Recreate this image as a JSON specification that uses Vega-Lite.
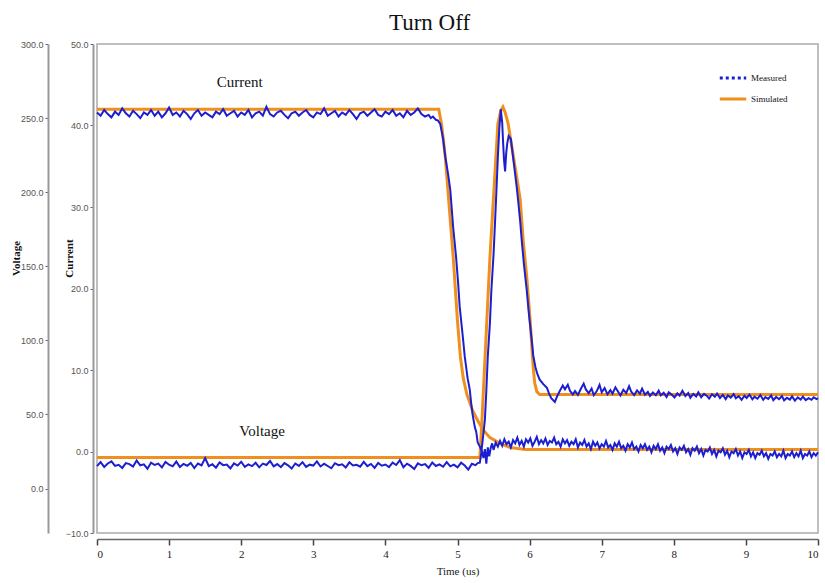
{
  "$schema": "https://vega.github.io/schema/vega-lite/v6.json",
  "autosize": "none",
  "width": 721,
  "height": 489,
  "padding": {"left": 97, "top": 44, "right": 7, "bottom": 50},
  "background": "white",
  "title": {
    "text": "Turn Off",
    "font": "Liberation Serif",
    "fontSize": 23,
    "fontWeight": "normal",
    "color": "#111",
    "frame": "group",
    "anchor": "middle",
    "dx": -28,
    "offset": 5
  },
  "config": {
    "view": {"stroke": "#aaa", "strokeWidth": 1.5},
    "legend": {
      "orient": "none",
      "legendX": 621,
      "legendY": 19,
      "title": null,
      "labelFont": "Liberation Serif",
      "labelFontSize": 9,
      "labelColor": "#111",
      "labelOffset": 3,
      "symbolType": "stroke",
      "symbolSize": 700,
      "symbolStrokeWidth": 3,
      "rowPadding": 0
    }
  },
  "datasets": {
    "curS": [
      {"t": 0, "v": 42.0}, {"t": 4.74, "v": 42.0}, {"t": 4.78, "v": 40.1}, {"t": 4.83, "v": 36.2},
      {"t": 4.94, "v": 23.9}, {"t": 5.0, "v": 16.0}, {"t": 5.04, "v": 11.6}, {"t": 5.08, "v": 9.0},
      {"t": 5.13, "v": 7.0}, {"t": 5.21, "v": 5.0}, {"t": 5.28, "v": 3.8}, {"t": 5.35, "v": 2.7},
      {"t": 5.45, "v": 1.7}, {"t": 5.59, "v": 1.0}, {"t": 5.73, "v": 0.5}, {"t": 5.94, "v": 0.25},
      {"t": 10, "v": 0.25}
    ],
    "volS": [
      {"t": 0, "v": 20.9}, {"t": 5.31, "v": 20.9}, {"t": 5.34, "v": 46.5}, {"t": 5.45, "v": 156},
      {"t": 5.56, "v": 246}, {"t": 5.6, "v": 255}, {"t": 5.63, "v": 257.6}, {"t": 5.66, "v": 254},
      {"t": 5.7, "v": 246.8}, {"t": 5.82, "v": 210.6}, {"t": 5.87, "v": 195}, {"t": 5.91, "v": 168},
      {"t": 5.96, "v": 143}, {"t": 6.01, "v": 112}, {"t": 6.05, "v": 82}, {"t": 6.07, "v": 71.5},
      {"t": 6.1, "v": 65.4}, {"t": 6.14, "v": 63.4}, {"t": 10, "v": 63.4}
    ],
    "curM": [
      {"t": 0.00, "v": 41.6}, {"t": 0.05, "v": 41.2}, {"t": 0.10, "v": 41.9}, {"t": 0.15, "v": 41.4},
      {"t": 0.20, "v": 41.0}, {"t": 0.25, "v": 41.7}, {"t": 0.30, "v": 41.3}, {"t": 0.35, "v": 42.1},
      {"t": 0.40, "v": 41.5}, {"t": 0.45, "v": 41.1}, {"t": 0.50, "v": 41.8}, {"t": 0.55, "v": 41.4},
      {"t": 0.60, "v": 40.9}, {"t": 0.65, "v": 41.6}, {"t": 0.70, "v": 41.3}, {"t": 0.75, "v": 41.9},
      {"t": 0.80, "v": 41.2}, {"t": 0.85, "v": 41.7}, {"t": 0.90, "v": 41.0}, {"t": 0.95, "v": 41.5},
      {"t": 1.00, "v": 42.2}, {"t": 1.05, "v": 41.3}, {"t": 1.10, "v": 41.6}, {"t": 1.15, "v": 41.1},
      {"t": 1.20, "v": 41.8}, {"t": 1.25, "v": 41.4}, {"t": 1.30, "v": 40.8}, {"t": 1.35, "v": 41.5},
      {"t": 1.40, "v": 41.9}, {"t": 1.45, "v": 41.2}, {"t": 1.50, "v": 41.6}, {"t": 1.55, "v": 41.3},
      {"t": 1.60, "v": 41.0}, {"t": 1.65, "v": 41.7}, {"t": 1.70, "v": 41.4}, {"t": 1.75, "v": 42.0},
      {"t": 1.80, "v": 41.2}, {"t": 1.85, "v": 41.5}, {"t": 1.90, "v": 41.8}, {"t": 1.95, "v": 41.1},
      {"t": 2.00, "v": 41.6}, {"t": 2.05, "v": 41.3}, {"t": 2.10, "v": 41.9}, {"t": 2.15, "v": 41.0},
      {"t": 2.20, "v": 41.5}, {"t": 2.25, "v": 41.7}, {"t": 2.30, "v": 41.2}, {"t": 2.35, "v": 42.3},
      {"t": 2.40, "v": 41.4}, {"t": 2.45, "v": 41.1}, {"t": 2.50, "v": 41.6}, {"t": 2.55, "v": 41.8},
      {"t": 2.60, "v": 41.3}, {"t": 2.65, "v": 40.9}, {"t": 2.70, "v": 41.5}, {"t": 2.75, "v": 41.7},
      {"t": 2.80, "v": 41.2}, {"t": 2.85, "v": 41.6}, {"t": 2.90, "v": 41.9}, {"t": 2.95, "v": 41.3},
      {"t": 3.00, "v": 41.0}, {"t": 3.05, "v": 41.6}, {"t": 3.10, "v": 41.4}, {"t": 3.15, "v": 42.1},
      {"t": 3.20, "v": 41.2}, {"t": 3.25, "v": 41.5}, {"t": 3.30, "v": 41.8}, {"t": 3.35, "v": 41.1},
      {"t": 3.40, "v": 41.6}, {"t": 3.45, "v": 41.3}, {"t": 3.50, "v": 41.9}, {"t": 3.55, "v": 41.4},
      {"t": 3.60, "v": 40.8}, {"t": 3.65, "v": 41.5}, {"t": 3.70, "v": 41.7}, {"t": 3.75, "v": 41.2},
      {"t": 3.80, "v": 41.6}, {"t": 3.85, "v": 42.0}, {"t": 3.90, "v": 41.3}, {"t": 3.95, "v": 41.1},
      {"t": 4.00, "v": 41.7}, {"t": 4.05, "v": 41.4}, {"t": 4.10, "v": 41.9}, {"t": 4.15, "v": 41.2},
      {"t": 4.20, "v": 41.5}, {"t": 4.25, "v": 41.0}, {"t": 4.30, "v": 41.8}, {"t": 4.35, "v": 41.3},
      {"t": 4.40, "v": 41.6}, {"t": 4.45, "v": 42.1}, {"t": 4.50, "v": 41.4}, {"t": 4.55, "v": 41.1},
      {"t": 4.60, "v": 41.3}, {"t": 4.63, "v": 40.9}, {"t": 4.66, "v": 41.1}, {"t": 4.70, "v": 40.7},
      {"t": 4.73, "v": 40.6}, {"t": 4.76, "v": 40.2}, {"t": 4.80, "v": 38.4}, {"t": 4.83, "v": 36.2},
      {"t": 4.87, "v": 34.0}, {"t": 4.90, "v": 32.1}, {"t": 4.94, "v": 27.5}, {"t": 4.98, "v": 23.9},
      {"t": 5.01, "v": 20.5}, {"t": 5.03, "v": 17.8}, {"t": 5.07, "v": 14.4}, {"t": 5.10, "v": 11.7},
      {"t": 5.14, "v": 9.0}, {"t": 5.17, "v": 7.6}, {"t": 5.19, "v": 5.9}, {"t": 5.21, "v": 4.5},
      {"t": 5.24, "v": 3.0}, {"t": 5.26, "v": 2.4}, {"t": 5.28, "v": 1.1}, {"t": 5.31, "v": 0.6},
      {"t": 5.34, "v": 0.0}, {"t": 5.36, "v": -0.8}, {"t": 5.38, "v": 0.3}, {"t": 5.40, "v": -1.5},
      {"t": 5.42, "v": 0.5}, {"t": 5.44, "v": -0.6}, {"t": 5.46, "v": 0.4}, {"t": 5.48, "v": 1.0},
      {"t": 5.50, "v": 0.2}, {"t": 5.53, "v": 1.1}, {"t": 5.56, "v": 0.6}, {"t": 5.59, "v": 1.3},
      {"t": 5.62, "v": 0.7}, {"t": 5.65, "v": 1.5}, {"t": 5.68, "v": 0.9}, {"t": 5.71, "v": 1.2},
      {"t": 5.74, "v": 0.5}, {"t": 5.77, "v": 1.4}, {"t": 5.80, "v": 1.0}, {"t": 5.83, "v": 1.7},
      {"t": 5.86, "v": 0.8}, {"t": 5.89, "v": 1.3}, {"t": 5.92, "v": 0.6}, {"t": 5.95, "v": 1.5},
      {"t": 5.98, "v": 1.1}, {"t": 6.01, "v": 1.6}, {"t": 6.04, "v": 0.7}, {"t": 6.07, "v": 1.2},
      {"t": 6.10, "v": 1.8}, {"t": 6.13, "v": 0.9}, {"t": 6.16, "v": 1.4}, {"t": 6.19, "v": 1.0},
      {"t": 6.22, "v": 1.6}, {"t": 6.25, "v": 0.8}, {"t": 6.28, "v": 1.3}, {"t": 6.31, "v": 1.1},
      {"t": 6.34, "v": 1.7}, {"t": 6.37, "v": 0.9}, {"t": 6.40, "v": 1.2}, {"t": 6.43, "v": 0.6},
      {"t": 6.46, "v": 1.5}, {"t": 6.49, "v": 1.0}, {"t": 6.52, "v": 1.4}, {"t": 6.55, "v": 0.7},
      {"t": 6.58, "v": 1.2}, {"t": 6.61, "v": 0.9}, {"t": 6.64, "v": 1.5}, {"t": 6.67, "v": 0.5},
      {"t": 6.70, "v": 1.1}, {"t": 6.73, "v": 0.8}, {"t": 6.76, "v": 1.4}, {"t": 6.79, "v": 0.6},
      {"t": 6.82, "v": 1.0}, {"t": 6.85, "v": 0.3}, {"t": 6.88, "v": 1.2}, {"t": 6.91, "v": 0.7},
      {"t": 6.94, "v": 1.1}, {"t": 6.97, "v": 0.4}, {"t": 7.00, "v": 0.9}, {"t": 7.03, "v": 0.6},
      {"t": 7.06, "v": 1.3}, {"t": 7.09, "v": 0.5}, {"t": 7.12, "v": 0.8}, {"t": 7.15, "v": 0.2},
      {"t": 7.18, "v": 1.0}, {"t": 7.21, "v": 0.6}, {"t": 7.24, "v": 1.2}, {"t": 7.27, "v": 0.4},
      {"t": 7.30, "v": 0.7}, {"t": 7.33, "v": 0.1}, {"t": 7.36, "v": 0.9}, {"t": 7.39, "v": 0.5},
      {"t": 7.42, "v": 1.1}, {"t": 7.45, "v": 0.3}, {"t": 7.48, "v": 0.6}, {"t": 7.51, "v": 0.0},
      {"t": 7.54, "v": 0.8}, {"t": 7.57, "v": 0.4}, {"t": 7.60, "v": 0.9}, {"t": 7.63, "v": 0.2},
      {"t": 7.66, "v": 0.6}, {"t": 7.69, "v": -0.1}, {"t": 7.72, "v": 0.7}, {"t": 7.75, "v": 0.3},
      {"t": 7.78, "v": 0.9}, {"t": 7.81, "v": 0.1}, {"t": 7.84, "v": 0.5}, {"t": 7.87, "v": -0.2},
      {"t": 7.90, "v": 0.6}, {"t": 7.93, "v": 0.3}, {"t": 7.96, "v": 0.8}, {"t": 7.99, "v": 0.0},
      {"t": 8.02, "v": 0.4}, {"t": 8.05, "v": -0.3}, {"t": 8.08, "v": 0.5}, {"t": 8.11, "v": 0.2},
      {"t": 8.14, "v": 0.7}, {"t": 8.17, "v": -0.1}, {"t": 8.20, "v": 0.3}, {"t": 8.23, "v": -0.4},
      {"t": 8.26, "v": 0.4}, {"t": 8.29, "v": 0.1}, {"t": 8.32, "v": 0.6}, {"t": 8.35, "v": -0.2},
      {"t": 8.38, "v": 0.3}, {"t": 8.41, "v": -0.5}, {"t": 8.44, "v": 0.2}, {"t": 8.47, "v": 0.0},
      {"t": 8.50, "v": 0.5}, {"t": 8.53, "v": -0.3}, {"t": 8.56, "v": 0.2}, {"t": 8.59, "v": -0.6},
      {"t": 8.62, "v": 0.1}, {"t": 8.65, "v": -0.1}, {"t": 8.68, "v": 0.4}, {"t": 8.71, "v": -0.4},
      {"t": 8.74, "v": 0.1}, {"t": 8.77, "v": -0.7}, {"t": 8.80, "v": 0.0}, {"t": 8.83, "v": -0.2},
      {"t": 8.86, "v": 0.3}, {"t": 8.89, "v": -0.5}, {"t": 8.92, "v": 0.0}, {"t": 8.95, "v": -0.8},
      {"t": 8.98, "v": -0.1}, {"t": 9.01, "v": -0.3}, {"t": 9.04, "v": 0.2}, {"t": 9.07, "v": -0.6},
      {"t": 9.10, "v": -0.1}, {"t": 9.13, "v": -0.8}, {"t": 9.16, "v": -0.2}, {"t": 9.19, "v": -0.4},
      {"t": 9.22, "v": 0.1}, {"t": 9.25, "v": -0.6}, {"t": 9.28, "v": -0.2}, {"t": 9.31, "v": -0.9},
      {"t": 9.34, "v": -0.3}, {"t": 9.37, "v": -0.5}, {"t": 9.40, "v": 0.0}, {"t": 9.43, "v": -0.7},
      {"t": 9.46, "v": -0.3}, {"t": 9.49, "v": -0.6}, {"t": 9.52, "v": 0.1}, {"t": 9.55, "v": -0.8},
      {"t": 9.58, "v": -0.3}, {"t": 9.61, "v": -0.5}, {"t": 9.64, "v": 0.0}, {"t": 9.67, "v": -0.7},
      {"t": 9.70, "v": -0.2}, {"t": 9.73, "v": -0.6}, {"t": 9.76, "v": 0.1}, {"t": 9.79, "v": -0.8},
      {"t": 9.82, "v": -0.3}, {"t": 9.85, "v": -0.5}, {"t": 9.88, "v": 0.0}, {"t": 9.91, "v": -0.7},
      {"t": 9.94, "v": -0.2}, {"t": 9.97, "v": -0.5}, {"t": 10.0, "v": -0.1}
    ],
    "volM": [
      {"t": 0.00, "v": 15.1}, {"t": 0.05, "v": 17.8}, {"t": 0.10, "v": 14.6}, {"t": 0.15, "v": 16.9},
      {"t": 0.20, "v": 18.4}, {"t": 0.25, "v": 15.3}, {"t": 0.30, "v": 16.0}, {"t": 0.35, "v": 13.9},
      {"t": 0.40, "v": 17.2}, {"t": 0.45, "v": 16.5}, {"t": 0.50, "v": 14.8}, {"t": 0.55, "v": 18.9},
      {"t": 0.60, "v": 15.7}, {"t": 0.65, "v": 16.3}, {"t": 0.70, "v": 13.4}, {"t": 0.75, "v": 17.5},
      {"t": 0.80, "v": 15.9}, {"t": 0.85, "v": 16.8}, {"t": 0.90, "v": 14.2}, {"t": 0.95, "v": 17.9},
      {"t": 1.00, "v": 16.1}, {"t": 1.05, "v": 15.0}, {"t": 1.10, "v": 18.2}, {"t": 1.15, "v": 14.5},
      {"t": 1.20, "v": 16.6}, {"t": 1.25, "v": 15.4}, {"t": 1.30, "v": 17.3}, {"t": 1.35, "v": 13.8},
      {"t": 1.40, "v": 16.9}, {"t": 1.45, "v": 15.6}, {"t": 1.50, "v": 20.6}, {"t": 1.55, "v": 15.2},
      {"t": 1.60, "v": 16.4}, {"t": 1.65, "v": 14.1}, {"t": 1.70, "v": 17.6}, {"t": 1.75, "v": 15.8},
      {"t": 1.80, "v": 16.2}, {"t": 1.85, "v": 13.6}, {"t": 1.90, "v": 17.0}, {"t": 1.95, "v": 15.5},
      {"t": 2.00, "v": 18.1}, {"t": 2.05, "v": 14.7}, {"t": 2.10, "v": 16.3}, {"t": 2.15, "v": 15.1},
      {"t": 2.20, "v": 17.4}, {"t": 2.25, "v": 14.3}, {"t": 2.30, "v": 16.8}, {"t": 2.35, "v": 15.9},
      {"t": 2.40, "v": 18.6}, {"t": 2.45, "v": 15.0}, {"t": 2.50, "v": 16.5}, {"t": 2.55, "v": 14.4},
      {"t": 2.60, "v": 17.2}, {"t": 2.65, "v": 15.7}, {"t": 2.70, "v": 13.5}, {"t": 2.75, "v": 16.9},
      {"t": 2.80, "v": 15.3}, {"t": 2.85, "v": 17.8}, {"t": 2.90, "v": 14.6}, {"t": 2.95, "v": 16.1},
      {"t": 3.00, "v": 15.5}, {"t": 3.05, "v": 18.3}, {"t": 3.10, "v": 14.9}, {"t": 3.15, "v": 16.7},
      {"t": 3.20, "v": 15.2}, {"t": 3.25, "v": 13.7}, {"t": 3.30, "v": 17.1}, {"t": 3.35, "v": 15.8},
      {"t": 3.40, "v": 16.4}, {"t": 3.45, "v": 14.2}, {"t": 3.50, "v": 17.7}, {"t": 3.55, "v": 15.6},
      {"t": 3.60, "v": 16.0}, {"t": 3.65, "v": 14.8}, {"t": 3.70, "v": 18.0}, {"t": 3.75, "v": 15.1},
      {"t": 3.80, "v": 16.6}, {"t": 3.85, "v": 13.9}, {"t": 3.90, "v": 17.3}, {"t": 3.95, "v": 15.4},
      {"t": 4.00, "v": 16.2}, {"t": 4.05, "v": 14.5}, {"t": 4.10, "v": 17.5}, {"t": 4.15, "v": 15.9},
      {"t": 4.20, "v": 19.2}, {"t": 4.25, "v": 14.4}, {"t": 4.30, "v": 16.8}, {"t": 4.35, "v": 15.3},
      {"t": 4.40, "v": 13.2}, {"t": 4.45, "v": 17.0}, {"t": 4.50, "v": 15.7}, {"t": 4.55, "v": 16.5},
      {"t": 4.60, "v": 14.0}, {"t": 4.65, "v": 17.6}, {"t": 4.70, "v": 15.2}, {"t": 4.75, "v": 16.3},
      {"t": 4.80, "v": 14.7}, {"t": 4.85, "v": 17.9}, {"t": 4.90, "v": 15.0}, {"t": 4.95, "v": 16.1},
      {"t": 5.00, "v": 14.3}, {"t": 5.05, "v": 17.4}, {"t": 5.10, "v": 15.5}, {"t": 5.15, "v": 12.8},
      {"t": 5.20, "v": 16.7}, {"t": 5.25, "v": 15.8}, {"t": 5.28, "v": 17.2},
      {"t": 5.31, "v": 17.5}, {"t": 5.33, "v": 24}, {"t": 5.35, "v": 33}, {"t": 5.38, "v": 46.5},
      {"t": 5.40, "v": 66}, {"t": 5.42, "v": 89}, {"t": 5.45, "v": 112}, {"t": 5.47, "v": 134},
      {"t": 5.50, "v": 158}, {"t": 5.52, "v": 179}, {"t": 5.54, "v": 201}, {"t": 5.56, "v": 224},
      {"t": 5.58, "v": 243}, {"t": 5.60, "v": 256}, {"t": 5.62, "v": 247}, {"t": 5.63, "v": 236},
      {"t": 5.645, "v": 222}, {"t": 5.66, "v": 214}, {"t": 5.675, "v": 226}, {"t": 5.69, "v": 233},
      {"t": 5.71, "v": 238}, {"t": 5.74, "v": 236}, {"t": 5.77, "v": 224}, {"t": 5.80, "v": 212},
      {"t": 5.82, "v": 204}, {"t": 5.84, "v": 195}, {"t": 5.87, "v": 180}, {"t": 5.89, "v": 168},
      {"t": 5.92, "v": 152}, {"t": 5.96, "v": 134}, {"t": 5.99, "v": 118}, {"t": 6.03, "v": 100},
      {"t": 6.05, "v": 90}, {"t": 6.08, "v": 82}, {"t": 6.11, "v": 77}, {"t": 6.14, "v": 73.5},
      {"t": 6.19, "v": 70.5}, {"t": 6.24, "v": 68}, {"t": 6.27, "v": 64}, {"t": 6.30, "v": 61},
      {"t": 6.35, "v": 58.5}, {"t": 6.38, "v": 62}, {"t": 6.42, "v": 66}, {"t": 6.46, "v": 69.5},
      {"t": 6.49, "v": 67}, {"t": 6.53, "v": 70}, {"t": 6.56, "v": 66}, {"t": 6.60, "v": 63.5},
      {"t": 6.63, "v": 65.8}, {"t": 6.67, "v": 63.2}, {"t": 6.71, "v": 67.2}, {"t": 6.75, "v": 70.8},
      {"t": 6.78, "v": 66.9}, {"t": 6.82, "v": 64.3}, {"t": 6.86, "v": 67.5}, {"t": 6.89, "v": 63.0},
      {"t": 6.93, "v": 65.6}, {"t": 6.97, "v": 69.9}, {"t": 7.00, "v": 65.0}, {"t": 7.04, "v": 67.8},
      {"t": 7.08, "v": 63.6}, {"t": 7.12, "v": 66.4}, {"t": 7.15, "v": 64.0}, {"t": 7.19, "v": 68.3},
      {"t": 7.23, "v": 65.1}, {"t": 7.26, "v": 62.8}, {"t": 7.30, "v": 66.7}, {"t": 7.34, "v": 64.4},
      {"t": 7.38, "v": 69.1}, {"t": 7.41, "v": 65.3}, {"t": 7.45, "v": 63.1}, {"t": 7.49, "v": 66.2},
      {"t": 7.53, "v": 64.0}, {"t": 7.56, "v": 67.4}, {"t": 7.60, "v": 63.3}, {"t": 7.64, "v": 65.2},
      {"t": 7.67, "v": 62.5}, {"t": 7.71, "v": 64.8}, {"t": 7.75, "v": 63.0}, {"t": 7.79, "v": 66.1},
      {"t": 7.82, "v": 62.9}, {"t": 7.86, "v": 64.6}, {"t": 7.90, "v": 61.8}, {"t": 7.93, "v": 64.9},
      {"t": 7.97, "v": 63.4}, {"t": 8.01, "v": 61.5}, {"t": 8.05, "v": 64.2}, {"t": 8.08, "v": 62.7},
      {"t": 8.12, "v": 66.0}, {"t": 8.16, "v": 62.4}, {"t": 8.20, "v": 64.5}, {"t": 8.23, "v": 61.3},
      {"t": 8.27, "v": 63.8}, {"t": 8.31, "v": 62.2}, {"t": 8.34, "v": 65.0}, {"t": 8.38, "v": 61.6},
      {"t": 8.42, "v": 63.9}, {"t": 8.46, "v": 62.5}, {"t": 8.49, "v": 60.7}, {"t": 8.53, "v": 63.6},
      {"t": 8.57, "v": 61.9}, {"t": 8.60, "v": 64.1}, {"t": 8.64, "v": 61.0}, {"t": 8.68, "v": 63.2},
      {"t": 8.72, "v": 60.4}, {"t": 8.75, "v": 62.8}, {"t": 8.79, "v": 61.4}, {"t": 8.83, "v": 63.7},
      {"t": 8.86, "v": 60.9}, {"t": 8.90, "v": 62.3}, {"t": 8.94, "v": 59.8}, {"t": 8.98, "v": 62.6},
      {"t": 9.01, "v": 61.1}, {"t": 9.05, "v": 63.4}, {"t": 9.09, "v": 60.2}, {"t": 9.12, "v": 62.0},
      {"t": 9.16, "v": 60.6}, {"t": 9.20, "v": 63.1}, {"t": 9.24, "v": 59.9}, {"t": 9.27, "v": 61.7},
      {"t": 9.31, "v": 60.5}, {"t": 9.35, "v": 62.9}, {"t": 9.38, "v": 59.6}, {"t": 9.42, "v": 61.8},
      {"t": 9.46, "v": 60.3}, {"t": 9.50, "v": 62.4}, {"t": 9.53, "v": 59.5}, {"t": 9.57, "v": 61.2},
      {"t": 9.61, "v": 60.0}, {"t": 9.64, "v": 62.2}, {"t": 9.68, "v": 59.3}, {"t": 9.72, "v": 61.5},
      {"t": 9.76, "v": 60.1}, {"t": 9.79, "v": 62.1}, {"t": 9.83, "v": 59.7}, {"t": 9.87, "v": 61.0},
      {"t": 9.91, "v": 59.9}, {"t": 9.94, "v": 61.6}, {"t": 9.98, "v": 60.4}, {"t": 10.0, "v": 61.0}
    ],
    "labels": [
      {"t": 1.98, "v": 45.3, "label": "Current"},
      {"t": 2.29, "v": 2.5, "label": "Voltage"}
    ]
  },
  "encoding": {
    "x": {
      "field": "t",
      "type": "quantitative",
      "scale": {"domain": [0, 10], "nice": false},
      "axis": {
        "orient": "bottom",
        "offset": 6,
        "values": [0, 1, 2, 3, 4, 5, 6, 7, 8, 9, 10],
        "format": "d",
        "grid": false,
        "domainColor": "#666",
        "domainWidth": 1.5,
        "tickColor": "#444",
        "tickSize": 6,
        "tickWidth": 1.5,
        "labelFont": "Liberation Serif",
        "labelFontSize": 11,
        "labelColor": "#222",
        "labelPadding": 3,
        "title": "Time (us)",
        "titleFont": "Liberation Serif",
        "titleFontSize": 11,
        "titleFontWeight": "normal",
        "titleColor": "#222",
        "titlePadding": 6
      }
    }
  },
  "layer": [
    {
      "data": {"name": "curS"},
      "mark": {"type": "line", "strokeWidth": 3},
      "encoding": {
        "y": {
          "field": "v",
          "type": "quantitative",
          "scale": {"domain": [-10, 50], "nice": false, "zero": false},
          "axis": {
            "orient": "left",
            "offset": 4,
            "values": [-10, 0, 10, 20, 30, 40, 50],
            "format": ".1f",
            "grid": false,
            "domainColor": "#999",
            "domainWidth": 2,
            "tickColor": "#666",
            "tickSize": 3,
            "labelFont": "Liberation Sans",
            "labelFontSize": 9,
            "labelColor": "#555",
            "labelPadding": 2,
            "title": "Current",
            "titleFont": "Liberation Serif",
            "titleFontSize": 11,
            "titleFontWeight": "bold",
            "titleColor": "#111",
            "titleX": -19,
            "titleY": 214
          }
        },
        "color": {
          "datum": "Simulated",
          "type": "nominal",
          "scale": {"domain": ["Measured", "Simulated"], "range": ["#1c1fcf", "#ef8f1d"]},
          "legend": {
            "encode": {
              "symbols": {
                "update": {
                  "strokeDash": {"signal": "datum.value === 'Measured' ? [3, 3] : [1, 0]"}
                }
              }
            }
          }
        }
      }
    },
    {
      "data": {"name": "volS"},
      "mark": {"type": "line", "strokeWidth": 3},
      "encoding": {
        "y": {
          "field": "v",
          "type": "quantitative",
          "scale": {"domain": [-30, 300], "nice": false, "zero": false},
          "axis": {
            "orient": "left",
            "offset": 49,
            "values": [0, 50, 100, 150, 200, 250, 300],
            "format": ".1f",
            "grid": false,
            "domainColor": "#999",
            "domainWidth": 2,
            "tickColor": "#666",
            "tickSize": 3,
            "labelFont": "Liberation Sans",
            "labelFontSize": 9,
            "labelColor": "#555",
            "labelPadding": 2,
            "title": "Voltage",
            "titleFont": "Liberation Serif",
            "titleFontSize": 11,
            "titleFontWeight": "bold",
            "titleColor": "#111",
            "titleX": -27,
            "titleY": 214
          }
        },
        "color": {"datum": "Simulated", "type": "nominal"}
      }
    },
    {
      "data": {"name": "curM"},
      "mark": {"type": "line", "strokeWidth": 2},
      "encoding": {
        "y": {
          "field": "v",
          "type": "quantitative",
          "scale": {"domain": [-10, 50], "nice": false, "zero": false},
          "axis": null
        },
        "color": {"datum": "Measured", "type": "nominal"}
      }
    },
    {
      "data": {"name": "volM"},
      "mark": {"type": "line", "strokeWidth": 2},
      "encoding": {
        "y": {
          "field": "v",
          "type": "quantitative",
          "scale": {"domain": [-30, 300], "nice": false, "zero": false},
          "axis": null
        },
        "color": {"datum": "Measured", "type": "nominal"}
      }
    },
    {
      "data": {"name": "labels"},
      "mark": {"type": "text", "font": "Liberation Serif", "fontSize": 15, "color": "#111", "align": "center", "baseline": "middle"},
      "encoding": {
        "y": {
          "field": "v",
          "type": "quantitative",
          "scale": {"domain": [-10, 50], "nice": false, "zero": false},
          "axis": null
        },
        "text": {"field": "label"}
      }
    }
  ],
  "resolve": {"scale": {"y": "independent"}, "axis": {"y": "independent"}}
}
